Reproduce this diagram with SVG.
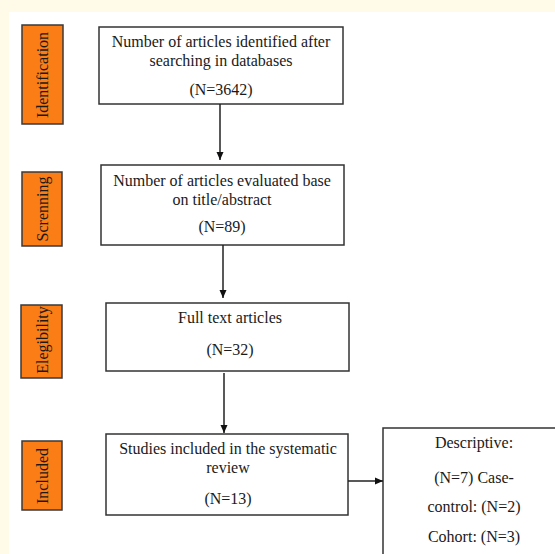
<svg xmlns="http://www.w3.org/2000/svg" width="555" height="554" viewBox="0 0 555 554">
<style>
.bg{fill:#fffbe8}
.box{fill:#ffffff;stroke:#333333;stroke-width:1.5}
.stage{fill:#fb7d16;stroke:#3a3a3a;stroke-width:1.5}
.t{font-family:"Liberation Serif","Times New Roman",serif;font-size:16px;fill:#1a1a1a;text-anchor:middle}
.st{font-family:"Liberation Serif","Times New Roman",serif;font-size:16px;fill:#1a1a1a;text-anchor:middle}
.conn{stroke:#222222;stroke-width:1.5;fill:none;marker-end:url(#ah)}
</style>
<defs>
<marker id="ah" viewBox="0 0 8 8" refX="8" refY="4" markerWidth="8" markerHeight="8" markerUnits="userSpaceOnUse" orient="auto">
<path d="M0,0.5 L8,4 L0,7.5 Z" fill="#111111"/>
</marker>
</defs>
<rect class="bg" x="0" y="0" width="555" height="554"/>
<rect x="9" y="12" width="546" height="542" fill="#ffffff"/>

<g id="stage-identification">
<rect class="stage" x="22" y="25" width="41" height="99"/>
<text class="st" transform="translate(48,75) rotate(-90)">Identification</text>
</g>
<g id="stage-screening">
<rect class="stage" x="22" y="172" width="40" height="74"/>
<text class="st" transform="translate(48,209) rotate(-90)">Screnning</text>
</g>
<g id="stage-eligibility">
<rect class="stage" x="21" y="305" width="41" height="73"/>
<text class="st" transform="translate(48,340) rotate(-90)">Elegibility</text>
</g>
<g id="stage-included">
<rect class="stage" x="22" y="441" width="40" height="69"/>
<text class="st" transform="translate(48,476) rotate(-90)">Included</text>
</g>

<g id="node-identified">
<rect class="box" x="99" y="27" width="244" height="77"/>
<text class="t" x="221" y="47">Number of articles identified after</text>
<text class="t" x="221" y="66">searching in databases</text>
<text class="t" x="221" y="95">(N=3642)</text>
</g>
<g id="node-screened">
<rect class="box" x="101" y="165" width="243" height="80"/>
<text class="t" x="222" y="186">Number of articles evaluated base</text>
<text class="t" x="222" y="205">on title/abstract</text>
<text class="t" x="222" y="232">(N=89)</text>
</g>
<g id="node-fulltext">
<rect class="box" x="106" y="303" width="243" height="68"/>
<text class="t" x="230" y="323">Full text articles</text>
<text class="t" x="230" y="355">(N=32)</text>
</g>
<g id="node-included">
<rect class="box" x="106" y="434" width="242" height="81"/>
<text class="t" x="228" y="454">Studies included in the systematic</text>
<text class="t" x="228" y="473">review</text>
<text class="t" x="228" y="504">(N=13)</text>
</g>
<g id="node-types">
<rect class="box" x="383" y="428" width="190" height="140"/>
<text class="t" x="474" y="448">Descriptive:</text>
<text class="t" x="474" y="483">(N=7) Case-</text>
<text class="t" x="474" y="512">control: (N=2)</text>
<text class="t" x="474" y="542">Cohort: (N=3)</text>
</g>

<g id="connectors">
<line class="conn" x1="220" y1="104" x2="220" y2="160"/>
<line class="conn" x1="223" y1="245" x2="223" y2="298"/>
<line class="conn" x1="224" y1="373" x2="224" y2="433"/>
<line class="conn" x1="348" y1="481" x2="383" y2="481"/>
</g>
</svg>
